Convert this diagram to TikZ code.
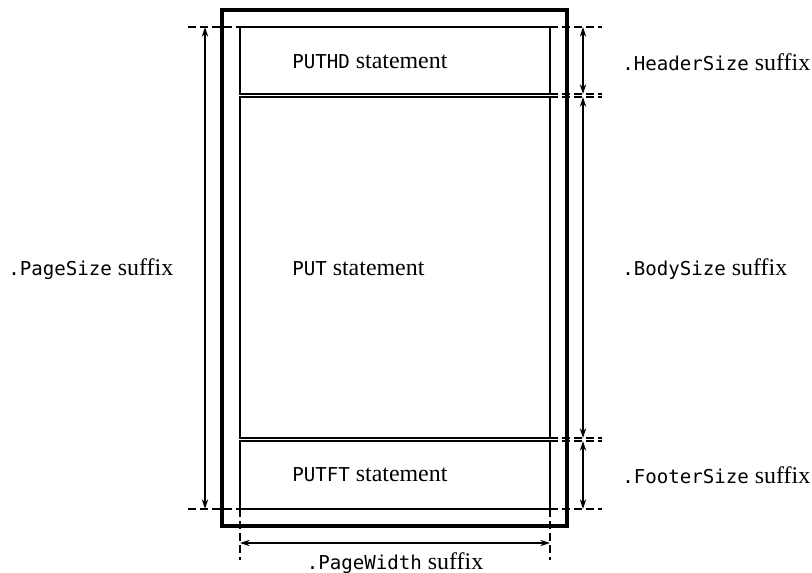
\documentclass[tikz,border=0pt]{standalone}
\usepackage{fontspec}
\setmainfont{Liberation Serif}
\setmonofont{DejaVu Sans Mono}[Scale=0.8]
\usetikzlibrary{arrows.meta}

\begin{document}
\begin{tikzpicture}[x=0.025cm, y=-0.025cm,
    every node/.style={font=\fontsize{17}{20}\selectfont, inner sep=0pt},
    pageline/.style={line width=2.4pt},
    boxline/.style={line width=1pt},
    guide/.style={line width=1pt, dash pattern=on 5.5pt off 3pt},
    dim/.style={line width=1pt, {Stealth[length=7pt,width=4.5pt]}-{Stealth[length=7pt,width=4.5pt]}}]

  \useasboundingbox (0,0) rectangle (812,573);

  % --- page and its three regions ---
  \draw[pageline] (222,10) rectangle (567,526);
  \draw[boxline] (240,27) rectangle (550,94);
  \draw[boxline] (240,97) rectangle (550,438);
  \draw[boxline] (240,441) rectangle (550,509);

  \node[anchor=west] (hd) at (292,62) {\texttt{PUTHD} statement};
  \node[anchor=west] (bd) at (292,269) {\texttt{PUT} statement};
  \node[anchor=west] (ft) at (292,475) {\texttt{PUTFT} statement};

  % --- guide points ---
  \coordinate (tl) at (205,27);   \coordinate (bl) at (205,509);
  \coordinate (htop) at (583,27); \coordinate (hbot) at (583,94);
  \coordinate (btop) at (583,97); \coordinate (bbot) at (583,438);
  \coordinate (ftop) at (583,441); \coordinate (fbot) at (583,509);
  \coordinate (wl) at (240,543);  \coordinate (wr) at (550,543);

  % --- dashed extension lines ---
  \draw[guide] (188,27) -- (257,27);
  \draw[guide] (188,509) -- (257,509);
  \draw[guide] (550,27) -- (602,27);
  \draw[guide] (550,94) -- (602,94);
  \draw[guide] (550,97) -- (602,97);
  \draw[guide] (550,438) -- (602,438);
  \draw[guide] (550,441) -- (602,441);
  \draw[guide] (550,509) -- (602,509);
  \draw[guide] (240,509) -- (240,560);
  \draw[guide] (550,509) -- (550,560);

  % --- dimension arrows ---
  \draw[dim] (tl) -- (bl);
  \draw[dim] (htop) -- (hbot);
  \draw[dim] (btop) -- (bbot);
  \draw[dim] (ftop) -- (fbot);
  \draw[dim] (wl) -- (wr);

  % --- suffix labels ---
  \node[anchor=west] (pgsize) at (8,269) {\texttt{.PageSize} suffix};
  \node[anchor=west] (hdsize) at (622,62) {\texttt{.HeaderSize} suffix};
  \node[anchor=west] (bdsize) at (622,269) {\texttt{.BodySize} suffix};
  \node[anchor=west] (ftsize) at (622,475) {\texttt{.FooterSize} suffix};
  \node (pgwidth) at (395,563) {\texttt{.PageWidth} suffix};

\end{tikzpicture}
\end{document}
